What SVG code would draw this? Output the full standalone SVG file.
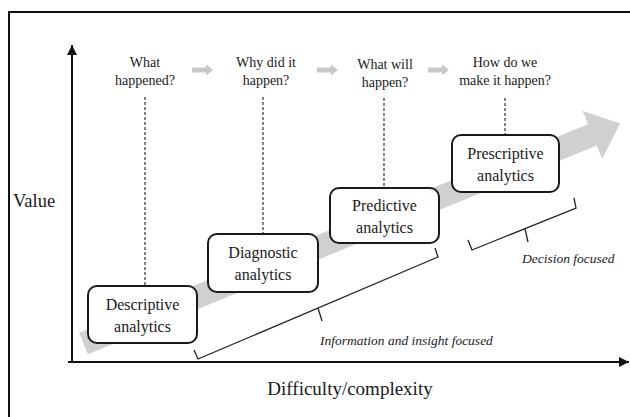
<svg xmlns="http://www.w3.org/2000/svg" width="630" height="417" viewBox="0 0 630 417" font-family="'Liberation Serif', 'Times New Roman', 'DejaVu Serif', serif">
<style>
text{font-family:'Liberation Serif','Times New Roman','DejaVu Serif',serif;fill:#1a1a1a}
.q{font-size:14px;text-anchor:middle}
.b{font-size:16px;text-anchor:middle}
.it{font-size:13.5px;font-style:italic}
.box{fill:#fff;stroke:#1a1a1a;stroke-width:2}
.dash{stroke:#333;stroke-width:1.2;stroke-dasharray:3 2;fill:none}
.ax{stroke:#111;stroke-width:2;fill:none}
.br{stroke:#222;stroke-width:1.3;fill:none}
.garr{fill:#c8c8c8}
</style>
<defs>
<marker id="ah" viewBox="0 0 10 10" refX="10" refY="5" markerWidth="5" markerHeight="5" orient="auto" markerUnits="strokeWidth">
<path d="M0,0 L10,5 L0,10 z" fill="#111"/>
</marker>
<path id="sa" d="M0,-2.5 L14,-2.5 L14,-5.5 L21,0 L14,5.5 L14,2.5 L0,2.5 z"/>
</defs>
<rect width="630" height="417" fill="#fff"/>
<path d="M9,417 L9,12 L630,12" stroke="#111" stroke-width="2" fill="none"/>
<g id="band">
<polygon transform="translate(83.5,343.5) rotate(-22.3)" points="0,-11.5 550,-11.5 550,-26 580,0 550,26 550,11.5 0,11.5" fill="#d0d0d0"/>
</g>
<g id="axes">
<line class="ax" x1="72" y1="362" x2="72" y2="45" marker-end="url(#ah)"/>
<line class="ax" x1="68" y1="362" x2="629" y2="362" marker-end="url(#ah)"/>
<text x="13" y="207" font-size="18.5">Value</text>
<text x="350" y="395" font-size="19" text-anchor="middle">Difficulty/complexity</text>
</g>
<g id="connectors">
<line class="dash" x1="145" y1="97" x2="145" y2="286"/>
<line class="dash" x1="263" y1="97" x2="263" y2="234"/>
<line class="dash" x1="384" y1="98" x2="384" y2="188"/>
<line class="dash" x1="505" y1="98" x2="505" y2="135"/>
<use href="#sa" class="garr" x="192" y="70"/>
<use href="#sa" class="garr" x="317" y="70"/>
<use href="#sa" class="garr" x="428" y="70"/>
</g>
<g id="q1"><text class="q" x="145" y="67">What</text><text class="q" x="145" y="85">happened?</text></g>
<g id="q2"><text class="q" x="266" y="67">Why did it</text><text class="q" x="266" y="85">happen?</text></g>
<g id="q3"><text class="q" x="385" y="69">What will</text><text class="q" x="385" y="87">happen?</text></g>
<g id="q4"><text class="q" x="505" y="67">How do we</text><text class="q" x="505" y="85">make it happen?</text></g>
<g id="descriptive"><rect class="box" x="88" y="286" width="109" height="57" rx="9"/><text class="b" x="142.5" y="310">Descriptive</text><text class="b" x="142.5" y="332">analytics</text></g>
<g id="diagnostic"><rect class="box" x="208" y="234" width="110" height="58" rx="9"/><text class="b" x="263" y="258">Diagnostic</text><text class="b" x="263" y="280">analytics</text></g>
<g id="predictive"><rect class="box" x="330" y="188" width="109" height="55" rx="9"/><text class="b" x="384.5" y="211">Predictive</text><text class="b" x="384.5" y="233">analytics</text></g>
<g id="prescriptive"><rect class="box" x="452" y="135" width="107" height="57" rx="9"/><text class="b" x="505.5" y="159">Prescriptive</text><text class="b" x="505.5" y="181">analytics</text></g>
<g id="info-bracket">
<path class="br" d="M194,350 L198,359 L438,257 L435,248 M318,308 L322,321"/>
<text class="it" x="320" y="345">Information and insight focused</text>
</g>
<g id="decision-bracket">
<path class="br" d="M468,240 L472,250 L576,208 L574,198 M525,229 L528,242"/>
<text class="it" x="522" y="263">Decision focused</text>
</g>
</svg>
